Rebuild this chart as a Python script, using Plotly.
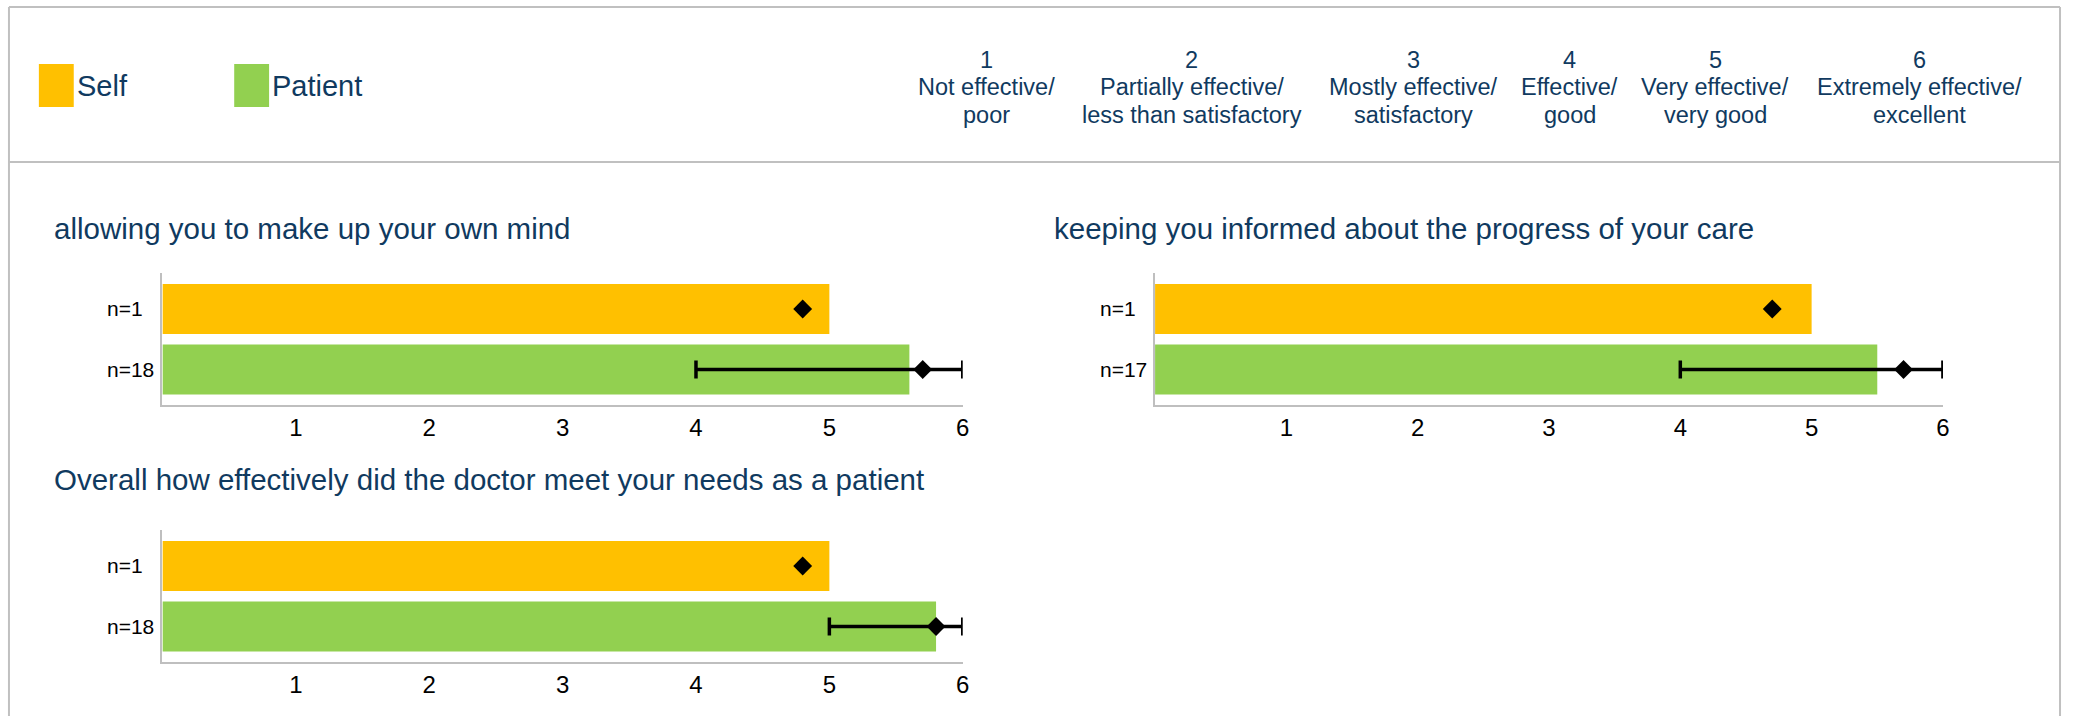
import plotly.graph_objects as go

# ---------------- data ----------------
questions = [
    "allowing you to make up your own mind",
    "keeping you informed about the progress of your care",
    "Overall how effectively did the doctor meet your needs as a patient",
]
self_n = [1, 1, 1]
patient_n = [18, 17, 18]
self_bar = [5.0, 5.0, 5.0]
patient_bar = [5.6, 5.5, 5.8]
self_mean = [4.8, 4.7, 4.8]
patient_mean = [5.7, 5.7, 5.8]
patient_min = [4.0, 4.0, 5.0]
patient_max = [6.0, 6.0, 6.0]

series_names = ["Self", "Patient"]
scale_values = [1, 2, 3, 4, 5, 6]
scale_line1 = ["Not effective/", "Partially effective/", "Mostly effective/",
               "Effective/", "Very effective/", "Extremely effective/"]
scale_line2 = ["poor", "less than satisfactory", "satisfactory",
               "good", "very good", "excellent"]
x_ticks = [1, 2, 3, 4, 5, 6]

# ---------------- style ----------------
W, H = 2075, 716
YELLOW = "#FFC000"
GREEN = "#92D050"
NAVY = "#103A60"
GRID = "#C0C0C0"
AXIS = "#BFBFBF"
FONT = "Liberation Sans, Arial, Helvetica, sans-serif"


def px(x):
    return x / W


def py(y):
    return 1 - y / H


# plot areas in pixel coords: (left, right, top, bottom)
areas = [
    (163, 966, 273, 405),
    (1159, 1949.5, 273, 405),
    (163, 966, 530, 662),
]
title_pos = [(52, 229), (1056, 229), (52, 480)]
cat_label_x = [105, 1102, 105]
scale_x = [990, 1196, 1418, 1575, 1721, 1926]
scale_y = [60, 87.5, 115]

fig = go.Figure()
layout = dict(
    width=W,
    height=H,
    margin=dict(l=0, r=0, t=0, b=0),
    paper_bgcolor="white",
    plot_bgcolor="white",
    showlegend=False,
    font=dict(family=FONT, color="black"),
)

annotations = []
shapes = []

for i in range(3):
    xa = "x" if i == 0 else f"x{i+1}"
    ya = "y" if i == 0 else f"y{i+1}"
    xkey = "xaxis" if i == 0 else f"xaxis{i+1}"
    ykey = "yaxis" if i == 0 else f"yaxis{i+1}"
    l, r, t, b = areas[i]

    fig.add_trace(go.Bar(
        orientation="h",
        x=[self_bar[i], patient_bar[i]],
        y=[0, 1],
        width=0.826,
        marker=dict(color=[YELLOW, GREEN], line=dict(width=0)),
        xaxis=xa, yaxis=ya, hoverinfo="x",
    ))
    fig.add_trace(go.Scatter(
        x=[self_mean[i]], y=[0], mode="markers",
        marker=dict(symbol="diamond", size=14.5, color="black"),
        xaxis=xa, yaxis=ya,
    ))
    fig.add_trace(go.Scatter(
        x=[patient_mean[i]], y=[1], mode="markers",
        marker=dict(symbol="diamond", size=14.5, color="black"),
        error_x=dict(
            type="data", symmetric=False,
            array=[patient_max[i] - patient_mean[i]],
            arrayminus=[patient_mean[i] - patient_min[i]],
            color="black", thickness=3.5, width=9,
        ),
        xaxis=xa, yaxis=ya,
    ))

    layout[xkey] = dict(
        domain=[px(l), px(r)], range=[0, 6], anchor=ya,
        tickvals=x_ticks, ticktext=[str(v) for v in x_ticks],
        showgrid=False, zeroline=False, showline=True,
        linecolor=AXIS, linewidth=1.5, ticks="",
        tickfont=dict(size=24, color="black", family=FONT),
        fixedrange=True,
    )
    layout[ykey] = dict(
        domain=[py(b), py(t)], range=[1.587, -0.595], anchor=xa,
        tickvals=[0, 1], showticklabels=False,
        showgrid=False, zeroline=False, showline=True,
        linecolor=AXIS, linewidth=1.5, ticks="",
        fixedrange=True,
    )

    # left-aligned category labels (n=...)
    for yv, lab in zip([0, 1], [f"n={self_n[i]}", f"n={patient_n[i]}"]):
        annotations.append(dict(
            text=lab, xref="paper", yref=ya,
            x=px(cat_label_x[i]), y=yv, xanchor="left", yanchor="middle",
            showarrow=False, font=dict(size=21, color="black", family=FONT),
        ))

    tx, ty = title_pos[i]
    annotations.append(dict(
        text=questions[i], xref="paper", yref="paper",
        x=px(tx), y=py(ty), xanchor="left", yanchor="middle",
        showarrow=False, font=dict(size=29.5, color=NAVY, family=FONT),
    ))

# scale header
for v, l1, l2, cx in zip(scale_values, scale_line1, scale_line2, scale_x):
    for txt, yy in zip([str(v), l1, l2], scale_y):
        annotations.append(dict(
            text=txt, xref="paper", yref="paper",
            x=px(cx), y=py(yy), xanchor="center", yanchor="middle",
            align="center", showarrow=False,
            font=dict(size=23.5, color=NAVY, family=FONT),
        ))

# legend swatches
legend_items = [(series_names[0], YELLOW, 39), (series_names[1], GREEN, 235)]
for name, col, x0 in legend_items:
    shapes.append(dict(
        type="rect", xref="paper", yref="paper",
        x0=px(x0), x1=px(x0 + 35), y0=py(107), y1=py(64),
        fillcolor=col, line=dict(width=0),
    ))
    annotations.append(dict(
        text=name, xref="paper", yref="paper",
        x=px(x0 + 36), y=py(86), xanchor="left", yanchor="middle",
        showarrow=False, font=dict(size=29, color=NAVY, family=FONT),
    ))

# frame lines
line = dict(color=GRID, width=2)
shapes += [
    dict(type="line", xref="paper", yref="paper", x0=px(9), x1=px(2067), y0=py(7), y1=py(7), line=line),
    dict(type="line", xref="paper", yref="paper", x0=px(9), x1=px(2067), y0=py(162), y1=py(162), line=line),
    dict(type="line", xref="paper", yref="paper", x0=px(9), x1=px(9), y0=py(7), y1=0, line=line),
    dict(type="line", xref="paper", yref="paper", x0=px(2067), x1=px(2067), y0=py(7), y1=0, line=line),
]

layout["annotations"] = annotations
layout["shapes"] = shapes
fig.update_layout(**layout)

fig.write_html(
    "out.html",
    config={"displayModeBar": False},
    post_script="document.body.style.margin='0';document.body.style.overflow='hidden';",
)
